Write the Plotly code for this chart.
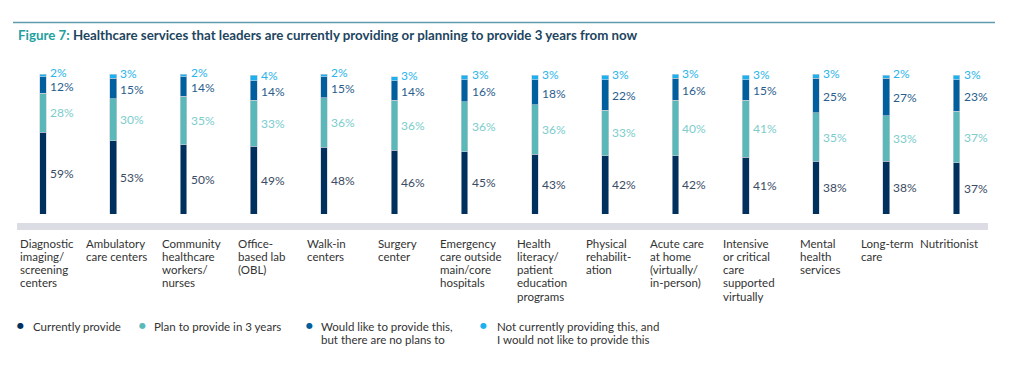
import plotly.graph_objects as go

# ---------------- data ----------------
categories = [
    "Diagnostic<br>imaging/<br>screening<br>centers",
    "Ambulatory<br>care centers",
    "Community<br>healthcare<br>workers/<br>nurses",
    "Office-<br>based lab<br>(OBL)",
    "Walk-in<br>centers",
    "Surgery<br>center",
    "Emergency<br>care outside<br>main/core<br>hospitals",
    "Health<br>literacy/<br>patient<br>education<br>programs",
    "Physical<br>rehabilit-<br>ation",
    "Acute care<br>at home<br>(virtually/<br>in-person)",
    "Intensive<br>or critical<br>care<br>supported<br>virtually",
    "Mental<br>health<br>services",
    "Long-term<br>care",
    "Nutritionist",
]
currently_provide = [59, 53, 50, 49, 48, 46, 45, 43, 42, 42, 41, 38, 38, 37]
plan_in_3_years = [28, 30, 35, 33, 36, 36, 36, 36, 33, 40, 41, 35, 33, 37]
would_like_no_plans = [12, 15, 14, 14, 15, 14, 16, 18, 22, 16, 15, 25, 27, 23]
not_providing = [2, 3, 2, 4, 2, 3, 3, 3, 3, 3, 3, 3, 2, 3]

series_names = [
    "Currently provide",
    "Plan to provide in 3 years",
    "Would like to provide this,<br>but there are no plans to",
    "Not currently providing this, and<br>I would not like to provide this",
]

# ---------------- styles / layout ----------------
OFF = 8                      # page body margin
W, H = 1024 - OFF, 367 - OFF
bar_colors = ["#00305e", "#5bb8b8", "#005f9e", "#1cb1ee"]
label_colors = ["#3a4b63", "#7ccccc", "#2a5d8c", "#2ab4ea"]
label_yshift = [0, 0, -1, 3]
text_color = "#333333"
FONT = "Lato, 'Open Sans', sans-serif"

first_px, step_px = 43.0, 70.27          # bar centre of first category and spacing (page px)
x_min = -(first_px - OFF) / step_px
x_max = x_min + W / step_px
bottom_px, px_per_pct = 214.0, 140.0 / 101
y_dom0 = (H - (bottom_px - OFF)) / H
y_max = (bottom_px - OFF) / px_per_pct

label_left_px = [18, 84, 160, 236, 305, 376, 438, 515, 584, 648, 721, 798, 859, 918]
legend_dot_px = [20, 142, 309, 483]
legend_text_px = [31, 152, 319, 495]

def px_x(p):
    return (p - OFF) / W

def px_y(p):
    return 1 - (p - OFF) / H

series = [currently_provide, plan_in_3_years, would_like_no_plans, not_providing]
xs = list(range(len(categories)))

fig = go.Figure()
for name, vals, col in zip(series_names, series, bar_colors):
    fig.add_trace(go.Bar(
        x=xs, y=vals, name=name, marker=dict(color=col, line=dict(width=0.6, color="#c9ced8")),
        width=0.095, showlegend=False, hoverinfo="y",
    ))

annotations = []
# value labels
for i in xs:
    base = 0
    for k, vals in enumerate(series):
        v = vals[i]
        mid = base + v / 2
        annotations.append(dict(
            x=i, y=mid, xref="x", yref="y", text=f"{v}%", showarrow=False,
            xanchor="left", yanchor="middle", xshift=5, yshift=label_yshift[k],
            font=dict(family=FONT, size=12, color=label_colors[k]),
        ))
        base += v

# category labels (one annotation per line)
for i, cat in enumerate(categories):
    for j, line in enumerate(cat.split("<br>")):
        annotations.append(dict(
            x=px_x(label_left_px[i]), y=px_y(243 + j * 13.3), xref="paper", yref="paper",
            text=line, showarrow=False, xanchor="left", yanchor="middle",
            font=dict(family=FONT, size=11.5, color=text_color),
        ))

# legend
for k, name in enumerate(series_names):
    annotations.append(dict(
        x=px_x(legend_dot_px[k]), y=px_y(325), xref="paper", yref="paper",
        text="●", showarrow=False, xanchor="center", yanchor="middle",
        font=dict(family="DejaVu Sans", size=8, color=bar_colors[k]),
    ))
    for j, line in enumerate(name.split("<br>")):
        annotations.append(dict(
            x=px_x(legend_text_px[k]), y=px_y(326 + j * 13.3), xref="paper", yref="paper",
            text=line, showarrow=False, xanchor="left", yanchor="middle",
            font=dict(family=FONT, size=11.5, color=text_color),
        ))

# title
annotations.append(dict(
    x=px_x(16), y=px_y(35), xref="paper", yref="paper", showarrow=False,
    xanchor="left", yanchor="middle",
    text="<b><span style='color:#22a0a0'>Figure 7:</span> Healthcare services that leaders are currently providing or planning to provide 3 years from now</b>",
    font=dict(family=FONT, size=13.3, color="#1d4560"),
))

shapes = [
    dict(type="line", xref="paper", yref="paper", x0=px_x(13), x1=px_x(995),
         y0=px_y(22.5), y1=px_y(22.5), line=dict(color="#5f9daa", width=1.5)),
    dict(type="rect", xref="paper", yref="paper", x0=px_x(17), x1=px_x(988),
         y0=px_y(230), y1=px_y(223), fillcolor="#dcdce5", line=dict(width=0), layer="below"),
]

fig.update_layout(
    width=W, height=H, barmode="stack",
    margin=dict(l=0, r=0, t=0, b=0),
    paper_bgcolor="white", plot_bgcolor="white",
    xaxis=dict(range=[x_min, x_max], domain=[0, 1], visible=False, fixedrange=True),
    yaxis=dict(range=[0, y_max], domain=[y_dom0, 1], visible=False, fixedrange=True),
    annotations=annotations, shapes=shapes,
)

fig.write_html("out.html")
